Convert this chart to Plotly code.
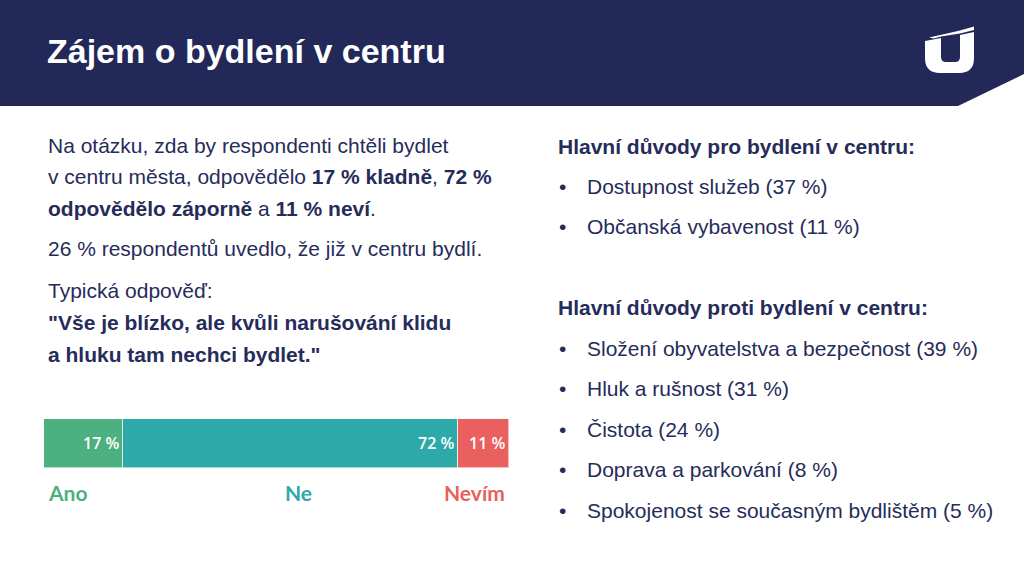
import plotly.graph_objects as go

W, H = 1024, 576

# ---- data ----
categories = ["Ano", "Ne", "Nevím"]
shares = [17, 72, 11]
bar_labels = ["17 %", "72 %", "11 %"]
colors = ["#4DB07F", "#2EA9AA", "#E9605F"]

pro_reasons = ["Dostupnost služeb (37 %)", "Občanská vybavenost (11 %)"]
contra_reasons = [
    "Složení obyvatelstva a bezpečnost (39 %)",
    "Hluk a rušnost (31 %)",
    "Čistota (24 %)",
    "Doprava a parkování (8 %)",
    "Spokojenost se současným bydlištěm (5 %)",
]

NAVY = "#222858"
TEXT = "#262C5A"
FONT = "Liberation Sans, Arial, sans-serif"


def px(x):
    return x / W


def py(y):
    return 1 - y / H


fig = go.Figure()
for cat, val, lab, col in zip(categories, shares, bar_labels, colors):
    fig.add_trace(go.Bar(
        x=[val], y=["q"], orientation="h", name=cat,
        marker=dict(color=col, line=dict(color="rgba(255,255,255,0.6)", width=1)),
        text=[lab], textposition="inside", insidetextanchor="end",
        textfont=dict(family="Open Sans, sans-serif", size=16, color="white", weight=600),
        hoverinfo="skip",
    ))

fig.update_layout(
    width=W, height=H, margin=dict(l=0, r=0, t=0, b=0),
    paper_bgcolor="white", plot_bgcolor="white",
    barmode="stack", bargap=0, showlegend=False,
    uniformtext=dict(mode="show", minsize=10),
    xaxis=dict(domain=[px(44), px(509)], range=[0, 100], visible=False, fixedrange=True),
    yaxis=dict(domain=[py(468), py(419)], visible=False, fixedrange=True),
)

shapes = []
# header band with diagonal cut at right
shapes.append(dict(type="path", xref="paper", yref="paper",
                   path=f"M {px(0)},{py(0)} L {px(1024)},{py(0)} L {px(1024)},{py(74)} "
                        f"L {px(958)},{py(106)} L {px(0)},{py(106)} Z",
                   fillcolor=NAVY, line=dict(width=0), layer="below"))
# logo: U shape
shapes.append(dict(type="path", xref="paper", yref="paper",
                   path=f"M {px(925)},{py(41)} L {px(941)},{py(38)} L {px(941)},{py(57)} "
                        f"Q {px(941)},{py(62)} {px(946)},{py(62)} L {px(955)},{py(62)} "
                        f"Q {px(960)},{py(62)} {px(960)},{py(57)} L {px(960)},{py(35)} "
                        f"L {px(974)},{py(32)} L {px(974)},{py(58)} "
                        f"Q {px(974)},{py(73)} {px(959)},{py(73)} L {px(940)},{py(73)} "
                        f"Q {px(925)},{py(73)} {px(925)},{py(58)} Z",
                   fillcolor="white", line=dict(width=0)))
# logo accent
shapes.append(dict(type="path", xref="paper", yref="paper",
                   path=f"M {px(929)},{py(37.5)} L {px(958)},{py(31)} L {px(974)},{py(26.5)} "
                        f"L {px(974)},{py(30)} L {px(960)},{py(33.5)} L {px(941)},{py(36.5)} L {px(934)},{py(38.5)} Z",
                   fillcolor="white", line=dict(width=0)))
fig.update_layout(shapes=shapes)

ann = []


def txt(x, y, s, size=21, color=TEXT, anchor="left", family=FONT):
    ann.append(dict(x=px(x), y=py(y), xref="paper", yref="paper", text=s,
                    showarrow=False, xanchor=anchor, yanchor="middle",
                    font=dict(family=family, size=size, color=color)))


txt(45, 51, "<b>Zájem o bydlení v centru</b>", size=34, color="white")

txt(46, 145, "Na otázku, zda by respondenti chtěli bydlet")
txt(46, 176, "v centru města, odpovědělo <b>17 % kladně</b>, <b>72 %</b>")
txt(46, 208, "<b>odpovědělo záporně</b> a <b>11 % neví</b>.")
txt(46, 248, "26 % respondentů uvedlo, že již v centru bydlí.")
txt(46, 290, "Typická odpověď:")
txt(46, 322, "<b>\"Vše je blízko, ale kvůli narušování klidu</b>")
txt(46, 354, "<b>a hluku tam nechci bydlet.\"</b>")

# category labels under the bar
cat_pos = [(46, "left"), (298, "center"), (507, "right")]
for cat, col, (x, a) in zip(categories, colors, cat_pos):
    txt(x, 492, f"<b>{cat}</b>", size=21, color=col, anchor=a, family="Lato, sans-serif")

txt(556, 147, "<b>Hlavní důvody pro bydlení v centru:</b>")
for i, r in enumerate(pro_reasons):
    y = 186 + i * 40.5
    txt(557, y, "•")
    txt(585, y, r)

txt(556, 307, "<b>Hlavní důvody proti bydlení v centru:</b>")
for i, r in enumerate(contra_reasons):
    y = 348 + i * 40.5
    txt(557, y, "•")
    txt(585, y, r)

fig.update_layout(annotations=ann)
fig.write_html("out.html", config={"displayModeBar": False},
               post_script="document.body.style.margin='0';")
